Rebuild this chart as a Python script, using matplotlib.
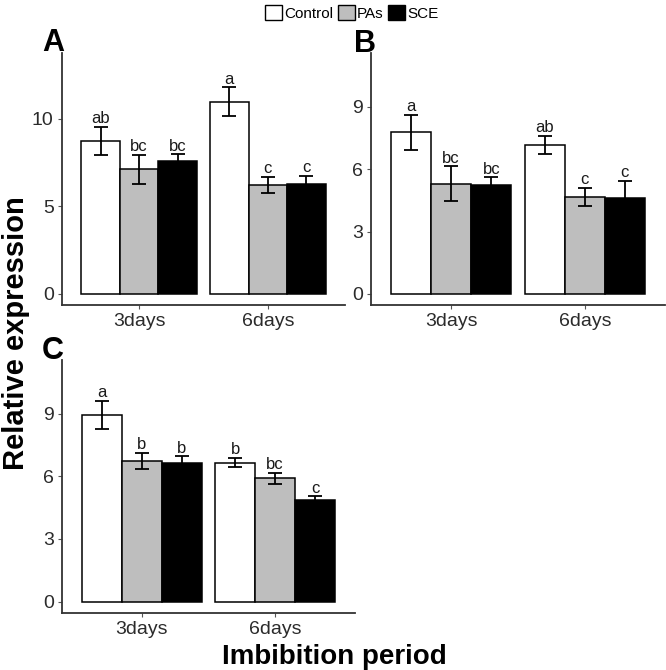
import matplotlib as mpl
mpl.use("Agg")
from matplotlib import pyplot as plt
from matplotlib.patches import Patch
import numpy as np

plt.rcParams['font.family'] = ['Liberation Sans', 'DejaVu Sans']

# data
periods = ['3days', '6days']
treatments = ['Control', 'PAs', 'SCE']
colors = ['#FFFFFF', '#BEBEBE', '#000000']

# panel A
a_means = [[8.76, 10.99], [7.14, 6.23], [7.58, 6.29]]
a_errs = [[0.79, 0.81], [0.83, 0.45], [0.40, 0.47]]
a_letters = [['ab', 'a'], ['bc', 'c'], ['bc', 'c']]

# panel B
b_means = [[7.77, 7.16], [5.29, 4.66], [5.24, 4.61]]
b_errs = [[0.85, 0.43], [0.84, 0.45], [0.37, 0.82]]
b_letters = [['a', 'ab'], ['bc', 'c'], ['bc', 'c']]

# panel C
c_means = [[8.94, 6.65], [6.73, 5.90], [6.65, 4.84]]
c_errs = [[0.68, 0.22], [0.38, 0.25], [0.30, 0.20]]
c_letters = [['a', 'b'], ['b', 'bc'], ['b', 'c']]

fig = plt.figure(figsize=(6.66, 6.70), dpi=100)
W, H = 666.0, 670.0


def add_axes(x0, x1, y_top, y_bot):
    return fig.add_axes([x0 / W, 1 - y_bot / H, (x1 - x0) / W, (y_bot - y_top) / H])


def draw_panel(ax, means, errs, letters, ylim, yticks):
    width = 0.3
    x = np.arange(1, len(periods) + 1)
    for i in range(len(treatments)):
        pos = x + (i - 1) * width
        ax.bar(pos, means[i], width, color=colors[i], edgecolor='black',
               linewidth=1.1, zorder=2)
        ax.errorbar(pos, means[i], yerr=errs[i], fmt='none', ecolor='black',
                    elinewidth=1.3, capsize=5, capthick=1.3, zorder=3)
        for p, m, e, lab in zip(pos, means[i], errs[i], letters[i]):
            ax.annotate(lab, (p, m + e), xytext=(0, 0.5), textcoords='offset points',
                        ha='center', va='bottom', fontsize=12, color='#1a1a1a')
    ax.set_xlim(0.4, 2.6)
    ax.set_ylim(*ylim)
    ax.set_xticks(x)
    ax.set_xticklabels(periods)
    ax.set_yticks(yticks)
    for s in ['top', 'right']:
        ax.spines[s].set_visible(False)
    for s in ['left', 'bottom']:
        ax.spines[s].set_color('#333333')
        ax.spines[s].set_linewidth(1.3)
    ax.tick_params(axis='both', length=3, width=0.8, color='#555555',
                   labelsize=14, labelcolor='#2b2b2b', pad=3)


axA = add_axes(62, 345, 53, 305)
draw_panel(axA, a_means, a_errs, a_letters, (-0.63, 13.77), [0, 5, 10])

axB = add_axes(371, 665, 53, 305)
draw_panel(axB, b_means, b_errs, b_letters, (-0.53, 11.58), [0, 3, 6, 9])

axC = add_axes(62, 355, 360, 612.7)
draw_panel(axC, c_means, c_errs, c_letters, (-0.53, 11.56), [0, 3, 6, 9])

# panel letters
fig.text(42 / W, 1 - 51 / H, 'A', fontsize=22, fontweight='bold', ha='left', va='baseline')
fig.text(354 / W, 1 - 52 / H, 'B', fontsize=22, fontweight='bold', ha='left', va='baseline')
fig.text(42 / W, 1 - 359 / H, 'C', fontsize=22, fontweight='bold', ha='left', va='baseline')

# common axis labels
fig.text(16 / W, 1 - 333 / H, 'Relative expression', fontsize=21, fontweight='bold',
         rotation=90, ha='center', va='center')
fig.text(334 / W, 1 - 664 / H, 'Imbibition period', fontsize=20, fontweight='bold',
         ha='center', va='baseline')

# legend on top
handles = [Patch(facecolor=c, edgecolor='black', linewidth=1.0, label=t)
           for c, t in zip(colors, treatments)]
fig.legend(handles=handles, loc='center', bbox_to_anchor=(352 / W, 1 - 13 / H),
           ncol=3, frameon=False, fontsize=11, handlelength=1.1, handleheight=1.1,
           handletextpad=0.15, columnspacing=0.3, borderpad=0)

fig.savefig('out.png', dpi=100)
